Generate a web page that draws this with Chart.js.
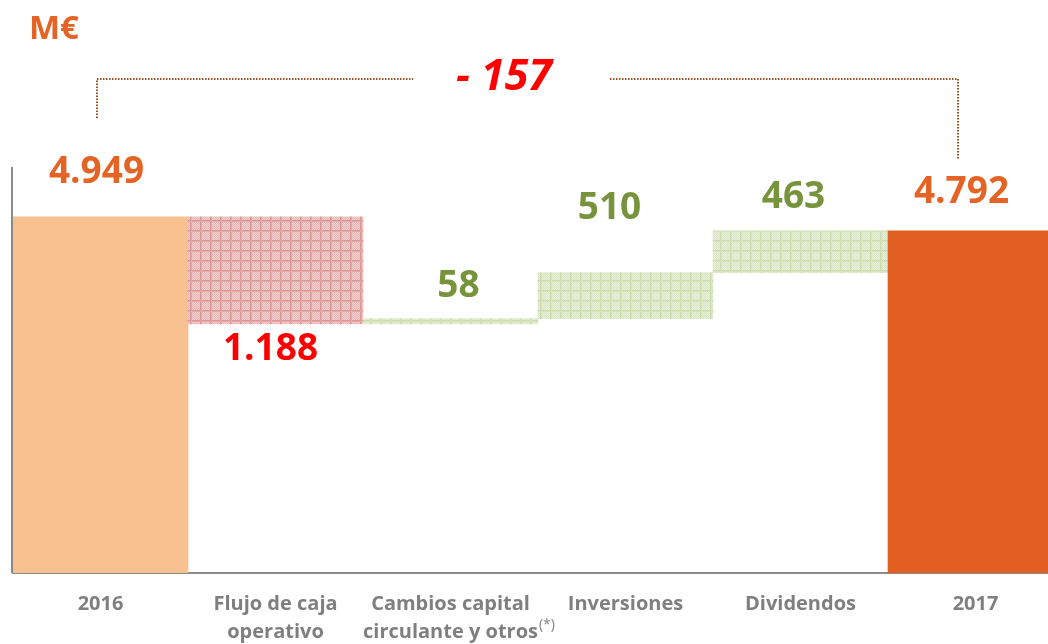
<!DOCTYPE html>
<html>
<head>
<meta charset="utf-8">
<script src="https://cdn.jsdelivr.net/npm/chart.js@4.4.1/dist/chart.umd.min.js"></script>
<style>
  html, body { margin: 0; padding: 0; background: #ffffff; overflow: hidden; }
  #wrap { width: 1070px; height: 644px; }
</style>
</head>
<body>
<div id="wrap"><canvas id="c" width="1070" height="644"></canvas></div>
<script>
// ---- data ----
const categories = [["2016"], ["Flujo de caja", "operativo"], ["Cambios capital", "circulante y otros"], ["Inversiones"], ["Dividendos"], ["2017"]];
const values = [4949, -1188, 58, 510, 463, 4792];
const kinds = ["total", "delta", "delta", "delta", "delta", "total"];
const axisMin = 1000;
const axisMax = 5500;
const totalChangeLabel = "- 157";
const unitLabel = "M€";
const footnoteMark = "(*)";

// ---- styles ----
const labelColors = ["#E46426", "#FF0000", "#77933C", "#77933C", "#77933C", "#E46426"];
const labelDy = [44, -26, 32, 64, 33, 38];
const labelDx = [-4, -5, 8, -16, -7, -14];
const FONT = "'Open Sans', Lato, sans-serif";

function fmt(v) {
  return String(Math.abs(v)).replace(/\B(?=(\d{3})+(?!\d))/g, ".");
}

// build floating bars
const floating = [];
let running = 0;
values.forEach((v, i) => {
  if (kinds[i] === "total") { floating.push([axisMin, v]); running = v; }
  else { const a = running, b = running + v; floating.push([Math.min(a, b), Math.max(a, b)]); running = b; }
});

const ctx0 = document.getElementById('c').getContext('2d');
function makePattern(base, c1, c2, line, line2) {
  const t = document.createElement('canvas');
  t.width = 10; t.height = 10;
  const x = t.getContext('2d');
  x.fillStyle = base; x.fillRect(0, 0, 10, 10);
  for (let i = 0; i < 10; i++) for (let j = 0; j < 10; j++) {
    x.fillStyle = ((i + j) % 2 === 0) ? c1 : c2;
    x.fillRect(i, j, 1, 1);
  }
  x.fillStyle = line; x.fillRect(0, 0, 10, 1); x.fillRect(0, 0, 1, 10);
  x.fillStyle = line2; x.fillRect(0, 1, 10, 1); x.fillRect(1, 0, 1, 10);
  return ctx0.createPattern(t, 'repeat');
}
const pinkPat = makePattern("#EEC3C3", "#E8B4B4", "#F3D2D2", "#DB9595", "#E5ABAB");
const greenPat = makePattern("#E2EBCF", "#DAE6C3", "#E9F0DA", "#CCDCAE", "#D6E3BE");
const barColors = values.map((v, i) => kinds[i] === "total" ? (i === 0 ? "#F9C090" : "#E15F23") : (v < 0 ? pinkPat : greenPat));

const TICK_SIZE = 20;

const overlay = {
  id: 'overlay',
  afterDraw(chart) {
    const c = chart.ctx, area = chart.chartArea;
    c.save();
    // left axis line
    c.strokeStyle = "#8A8A8A"; c.lineWidth = 2;
    c.beginPath(); c.moveTo(area.left - 1, area.top); c.lineTo(area.left - 1, area.bottom); c.stroke();

    // value labels
    const meta = chart.getDatasetMeta(0);
    c.font = "bold 37px " + FONT;
    c.textAlign = "center"; c.textBaseline = "middle";
    meta.data.forEach((bar, i) => {
      const top = Math.min(bar.y, bar.base), bottom = Math.max(bar.y, bar.base);
      const y = labelDy[i] >= 0 ? top - labelDy[i] : bottom - labelDy[i];
      c.fillStyle = labelColors[i];
      c.fillText(fmt(values[i]), bar.x + labelDx[i], y);
    });

    // footnote mark on third tick
    const xs = chart.scales.x;
    c.font = "bold " + TICK_SIZE + "px " + FONT;
    const w = c.measureText(categories[2][1]).width;
    const cx = xs.getPixelForValue(2);
    c.font = "14px " + FONT;
    c.fillStyle = "#7F7F7F"; c.textAlign = "left";
    c.fillText(footnoteMark, cx + w / 2 + 1, 625);

    // unit
    c.font = "bold 33px " + FONT;
    c.fillStyle = "#E46426"; c.textAlign = "left";
    c.fillText(unitLabel, 29, 30);

    // bracket
    c.strokeStyle = "#A0501E"; c.lineWidth = 2; c.setLineDash([1.5, 1.5]);
    c.beginPath();
    c.moveTo(97, 118); c.lineTo(97, 79); c.lineTo(413, 79);
    c.moveTo(610, 79); c.lineTo(958, 79); c.lineTo(958, 160);
    c.stroke();
    c.setLineDash([]);

    // total change
    c.font = "italic bold 43px " + FONT;
    c.fillStyle = "#FF0000"; c.textAlign = "center";
    c.fillText(totalChangeLabel, 504, 78);
    c.restore();
  }
};

new Chart(ctx0, {
  type: 'bar',
  data: {
    labels: categories,
    datasets: [{
      data: floating,
      backgroundColor: barColors,
      borderWidth: 0,
      categoryPercentage: 1.0,
      barPercentage: 1.0
    }]
  },
  options: {
    responsive: false,
    animation: false,
    events: [],
    layout: { padding: { left: 13, right: 7, top: 167, bottom: 0 } },
    plugins: { legend: { display: false }, tooltip: { enabled: false } },
    scales: {
      x: {
        grid: { display: false, drawTicks: false },
        border: { display: true, color: "#8A8A8A", width: 2 },
        ticks: {
          color: "#7F7F7F",
          font: { family: FONT, size: TICK_SIZE, weight: "bold", lineHeight: 1.4 },
          padding: 17,
          maxRotation: 0, autoSkip: false
        },
        afterFit(axis) { axis.height = 71; }
      },
      y: { display: false, min: axisMin, max: axisMax }
    }
  },
  plugins: [overlay]
});
</script>
</body>
</html>
